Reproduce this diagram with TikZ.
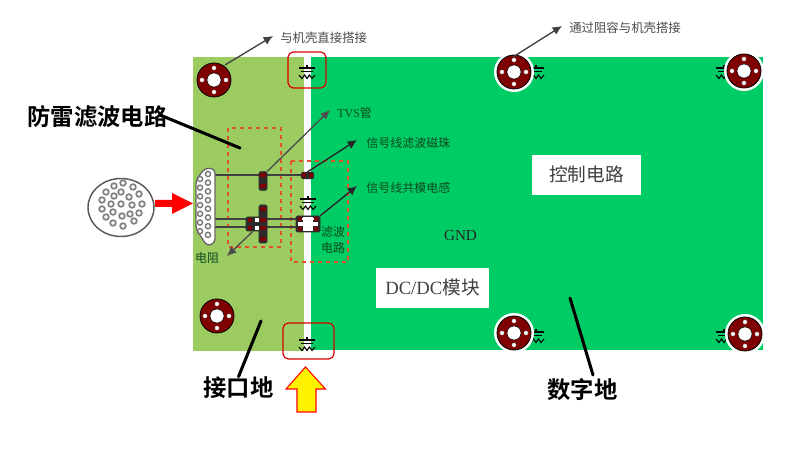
\documentclass[tikz,border=0pt]{standalone}
\usepackage{fontspec}
\setmainfont{Liberation Serif}
\newfontfamily\cjk{Noto Sans CJK SC}
\newfontfamily\cjkbold{Noto Sans CJK SC Bold}
\usetikzlibrary{arrows.meta}

\definecolor{groundColour}{HTML}{9CCB62}
\definecolor{digitalColour}{HTML}{00CC66}
\definecolor{holeColour}{HTML}{7F0000}
\definecolor{partColour}{HTML}{2B2B2B}
\definecolor{dashColour}{HTML}{E0502A}
\definecolor{noteColour}{HTML}{4A4A4A}
\definecolor{boardTextColour}{HTML}{0F4A1E}

\tikzset{
    note/.style={font=\cjk\fontsize{9.3}{11}\selectfont, text=noteColour, inner sep=0pt},
    boardnote/.style={font=\cjk\fontsize{9}{12}\selectfont, text=boardTextColour, inner sep=0pt, align=center},
    biglabel/.style={font=\cjkbold\fontsize{17.5}{20}\selectfont, inner sep=0pt},
    whitebox/.style={draw=white, fill=white, inner sep=0pt, text=black!75},
    leader/.style={-{Latex[length=7pt,width=6.5pt]}, line width=1pt, draw=black!85},
    heavyline/.style={line width=2.3pt, line cap=round},
    dashbox/.style={draw=dashColour, dashed, line width=1pt},
    redbox/.style={draw=red!85!black, line width=0.9pt, rounded corners=4pt},
    trace/.style={draw=black!75, line width=1.1pt},
    part/.style={draw=partColour, fill=partColour, rounded corners=1pt, inner sep=0pt},
    pad/.style={fill=holeColour},
    pics/mounthole/.style={code={
        \fill[white] (0,0) circle (#1);
        \filldraw[fill=holeColour, draw=black, line width=0.6pt] (0,0) circle (17);
        \filldraw[fill=white, draw=black, line width=0.4pt] (0,0) circle (7);
        \foreach \a in {0,90,180,270}
            \filldraw[fill=white, draw=black!50, line width=0.2pt] (\a:12) circle (2.2);
    }},
    pics/rcground/.style={code={
        \draw[line width=0.8pt] (0,-6) -- (0,-2);
        \draw[line width=0.8pt] (-8,-3) -- (8,-3);
        \draw[line width=0.8pt] (-6,0.5) -- (6,0.5);
        \draw[line width=0.8pt] (-8,4) -- (-5,7.5) -- (-2.5,4) -- (0,7.5) -- (2.5,4) -- (5,7.5) -- (8,4);
    }}
}

\begin{document}
\begin{tikzpicture}[x=0.75pt, y=-0.75pt]
    \useasboundingbox (0,0) rectangle (797,452);

    % Ground planes
    \fill[groundColour] (193,57) rectangle (304,351);
    \fill[digitalColour] (311,57) rectangle (763,350);

    % RC links to the chassis
    \foreach \x/\y in {307/71, 307/343, 308/202, 536/71, 724/71, 536/335, 724/335}
        \pic at (\x,\y) {rcground};

    % Mounting holes
    \foreach \x/\y in {214/80, 217/316}
        \pic at (\x,\y) {mounthole=17};
    \foreach \x/\y in {514/72, 744/71, 514/333, 745/334}
        \pic at (\x,\y) {mounthole=20};

    % Red marks round the links
    \draw[redbox] (288,52) rectangle (326,88);
    \draw[redbox] (283,323) rectangle (334,359);

    % Filter areas
    \draw[dashbox] (228,128) rectangle (281,247);
    \draw[dashbox] (291,161) rectangle (348,262);

    % Signal traces
    \draw[trace] (208,175) -- (310,175);
    \draw[trace] (208,219) -- (300,219);
    \draw[trace] (208,227) -- (300,227);

    % Protection parts and filter parts
    \node[part, minimum width=6pt, minimum height=14pt] (tvsTop) at (263,181) {};
    \node[part, minimum width=6pt, minimum height=28.5pt] (tvsBottom) at (263,224) {};
    \node[part, minimum width=9.5pt, minimum height=5pt] (bead) at (307.5,175.5) {};
    \node[part, minimum width=10.5pt, minimum height=10.5pt] (resistor) at (253,224) {};
    \node[part, minimum width=18pt, minimum height=12pt] (choke) at (308,224) {};
    \fill[white] (301,220) -- (315,220) -- (315,218) -- (301,218) -- cycle;
    \fill[white] (303,217) rectangle (313,231);
    \fill[white] (298,222) rectangle (318,226);
    \foreach \x/\y in {263/175, 263/186, 263/209, 263/220, 263/228, 263/239}
        \fill[pad] (\x-3,\y-2) rectangle (\x+3,\y+2);
    \foreach \x/\y in {304/175.5, 311/175.5, 300/219, 316/219, 300/229, 316/229}
        \fill[pad] (\x-2.2,\y-2) rectangle (\x+2.2,\y+2);
    \foreach \x/\y in {250/220, 250/228}
        \fill[pad] (\x-2,\y-2) rectangle (\x+2,\y+2);
    \foreach \x/\y in {257/220, 257/228}
        \fill[white] (\x-2,\y-2) rectangle (\x+2,\y+2);

    % Round plug
    \draw[black!65, line width=1.1pt] (121,207.5) ellipse (33 and 29);
    \foreach \x/\y in {123/183, 114/186, 133/187, 106/192, 121/192, 139/194, 114/196,
                       129/197, 102/200, 111/204, 121/204, 132/205, 142/204, 102/209,
                       113/212, 130/214, 139/213, 106/217, 122/216, 134/221, 113/223, 123/226}
        \draw[black!50, line width=1.3pt] (\x,\y) circle (2.8);

    % D-type connector
    \filldraw[fill=white, draw=black!60, line width=1pt, rounded corners=3pt]
        (196,180) -- (205,168) -- (215,169) -- (215,243) -- (207,246) -- (196,229) -- cycle;
    \foreach \y in {174,182.7,...,236}
        \draw[black!55, line width=1pt] (208,\y) circle (2.6);
    \foreach \y in {179,187.7,...,232}
        \draw[black!55, line width=1pt] (200,\y) circle (2.6);

    % Plug-in arrow and surge arrow
    \fill[red] (155,200) -- (172,200) -- (172,193) -- (193,203.5) -- (172,214) -- (172,207) -- (155,207) -- cycle;
    \filldraw[fill=yellow, draw=red, line width=0.8pt]
        (305.5,367) -- (325.5,389) -- (316,389) -- (316,412) -- (297,412) -- (297,389) -- (286,389) -- cycle;

    % Blocks
    \node[whitebox, minimum width=81pt, minimum height=29pt, font=\cjk\fontsize{14}{16}\selectfont] (control) at (586.5,174.5) {控制电路};
    \node[whitebox, minimum width=84pt, minimum height=29pt, font=\fontsize{14}{16}\selectfont] (dcdc) at (432.5,287.5) {DC/DC{\cjk 模块}};
    \node[font=\fontsize{11.4}{13}\selectfont, text=black!85, inner sep=0pt] (gnd) at (460.5,236) {GND};

    % Notes
    \node[note, anchor=west] (directNote) at (280,38) {与机壳直接搭接};
    \node[note, anchor=west] (rcNote) at (569,28) {通过阻容与机壳搭接};
    \node[boardnote, anchor=west] (tvsNote) at (337,113) {\fontspec{Liberation Serif}TVS\cjk 管};
    \node[boardnote, anchor=west] (beadNote) at (366,143) {信号线滤波磁珠};
    \node[boardnote, anchor=west] (chokeNote) at (366,188) {信号线共模电感};
    \node[boardnote] (resNote) at (207,258) {电阻};
    \node[boardnote] (filterNote) at (333,240) {滤波\\电路};

    \coordinate (holeA) at (225,65);
    \coordinate (holeB) at (513,57);
    \coordinate (tvsEnd) at (330,110);
    \coordinate (beadEnd) at (357,140);
    \coordinate (chokeEnd) at (357,186);
    \coordinate (resEnd) at (227,256);
    \draw[leader, draw=black!75] (holeA) -- (273,36);
    \draw[leader, draw=black!75] (holeB) -- (562,26);
    \draw[leader, draw=black!70] (tvsTop.north east) -- (tvsEnd);
    \draw[leader] (bead.north) -- (beadEnd);
    \draw[leader] (choke.north east) -- (chokeEnd);
    \draw[leader, draw=black!70] (resistor.south) -- (resEnd);

    % Big labels with their lines
    \node[biglabel] (surgeLabel) at (97.5,117) {防雷滤波电路};
    \node[biglabel] (portLabel) at (238.5,388) {接口地};
    \node[biglabel] (digitalLabel) at (582.5,390) {数字地};
    \coordinate (surgeEnd) at (240,148);
    \coordinate (portEnd) at (261,321);
    \coordinate (digitalEnd) at (570,298);
    \draw[heavyline] (160,115) -- (surgeEnd);
    \draw[heavyline] (portLabel.north) -- (portEnd);
    \draw[heavyline] (593,375) -- (digitalEnd);
\end{tikzpicture}
\end{document}
